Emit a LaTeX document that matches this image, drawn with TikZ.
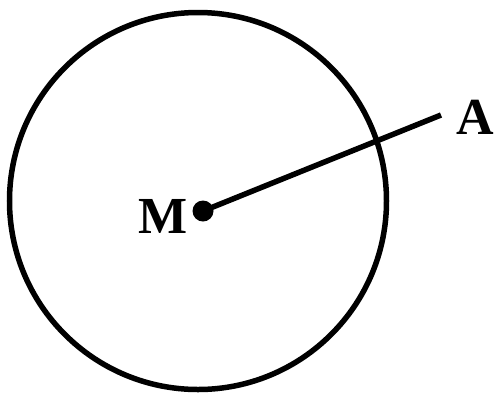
\documentclass[tikz,border=0pt]{standalone}
\usepackage{fontspec}
\setmainfont{Liberation Serif}
\usetikzlibrary{positioning}
\tikzset{
  ptlabel/.style={
    font=\fontsize{52}{60}\selectfont\bfseries,
    inner sep=0pt
  },
  ptdot/.style={
    circle,
    fill=black,
    inner sep=0pt,
    minimum size=21pt
  },
  thickline/.style={line width=5.5pt}
}
\begin{document}
\begin{tikzpicture}[x=1pt,y=-1pt]
  \useasboundingbox (0,0) rectangle (495,392);
  \draw[thickline] (198,201) circle (188.5pt);
  \node[ptdot] (M) at (203,211) {};
  \coordinate (A) at (441,115);
  \node[ptlabel,left=5pt of M,yshift=-5pt] (Mlab) {M};
  \node[ptlabel,right=15pt of A,yshift=-2pt] (Alab) {A};
  \draw[thickline] (M.center) -- (A);
\end{tikzpicture}
\end{document}
